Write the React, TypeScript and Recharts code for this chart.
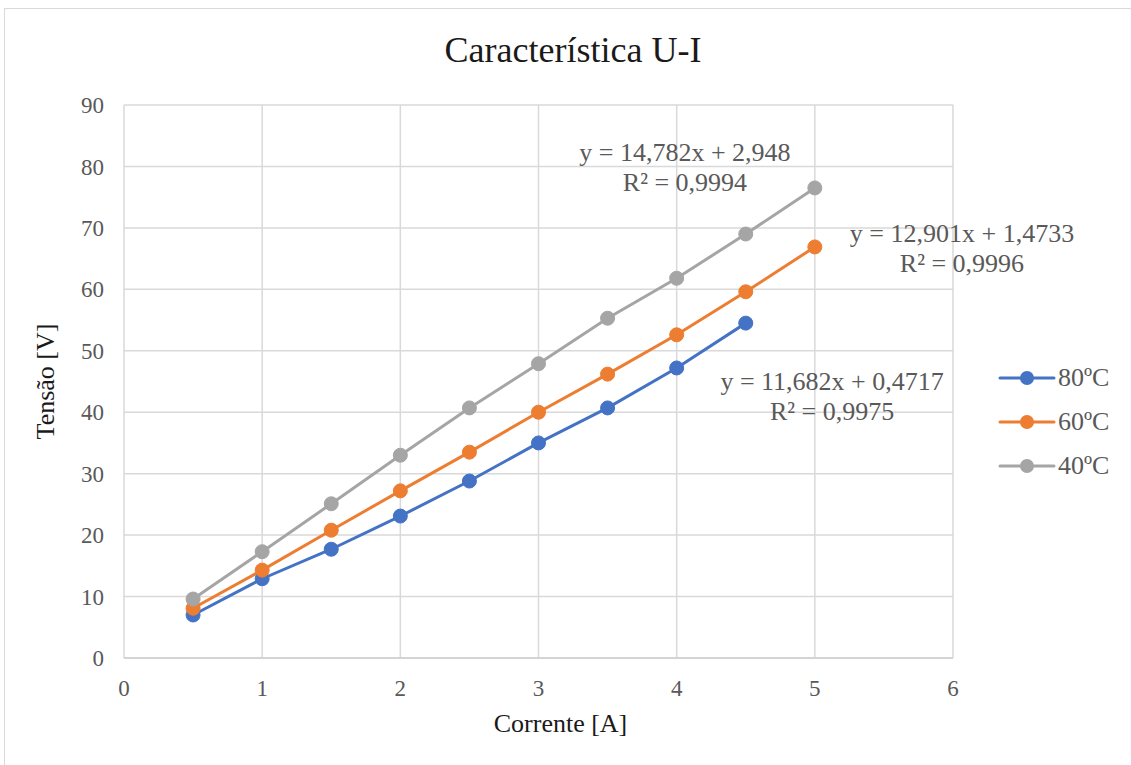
import React from "react";
import { LineChart, Line, XAxis, YAxis, CartesianGrid, ReferenceDot, Label } from "recharts";

// Corrente [A]
const current = [0.5, 1, 1.5, 2, 2.5, 3, 3.5, 4, 4.5, 5];

// Tensão [V] for each temperature
const voltage80 = [7.0, 12.9, 17.7, 23.1, 28.8, 35.0, 40.7, 47.2, 54.5];
const voltage60 = [8.1, 14.3, 20.8, 27.2, 33.5, 40.0, 46.2, 52.6, 59.6, 66.9];
const voltage40 = [9.6, 17.3, 25.1, 33.0, 40.7, 47.9, 55.3, 61.8, 69.0, 76.5];

const seriesNames = ["80ºC", "60ºC", "40ºC"];
const seriesColors = ["#4472C4", "#ED7D31", "#A5A5A5"];

const xTicks = [0, 1, 2, 3, 4, 5, 6];
const yTicks = [0, 10, 20, 30, 40, 50, 60, 70, 80, 90];

// trendline equations shown next to each series
const trendEquations = ["y = 11,682x + 0,4717", "y = 12,901x + 1,4733", "y = 14,782x + 2,948"];
const trendR2 = ["R² = 0,9975", "R² = 0,9996", "R² = 0,9994"];
const trendAnchorX = [5.125, 6.065, 4.06];
const trendAnchorY = [42.5, 66.6, 79.9];

const FONT = "'Liberation Serif', 'Times New Roman', serif";
const GRAY_TEXT = "#595959";

const toRows = (values: number[]) => values.map((v, i) => ({ x: current[i], y: v }));
const series = [voltage80, voltage60, voltage40].map((values, i) => ({
  name: seriesNames[i],
  color: seriesColors[i],
  data: toRows(values),
}));

const TrendLabel = ({ cx, cy, eq, r2 }: { cx?: number; cy?: number; eq: string; r2: string }) => {
  if (cx == null || cy == null) return null;
  return (
    <g>
      <text x={cx} y={cy - 15} textAnchor="middle" dominantBaseline="central" fontFamily={FONT} fontSize={26} fill={GRAY_TEXT}>
        {eq}
      </text>
      <text x={cx} y={cy + 15} textAnchor="middle" dominantBaseline="central" fontFamily={FONT} fontSize={26} fill={GRAY_TEXT}>
        {r2}
      </text>
    </g>
  );
};

const LegendBox = () => (
  <div style={{ position: "absolute", left: 998, top: 356 }}>
    {series.map((s) => (
      <div key={s.name} style={{ display: "flex", alignItems: "center", height: 44 }}>
        <svg width={58} height={20}>
          <line x1={2} y1={10} x2={56} y2={10} stroke={s.color} strokeWidth={3} strokeLinecap="round" />
          <circle cx={29} cy={10} r={7} fill={s.color} />
        </svg>
        <span style={{ fontFamily: FONT, fontSize: 26, color: GRAY_TEXT, marginLeft: 2, lineHeight: "26px" }}>
          {s.name}
        </span>
      </div>
    ))}
  </div>
);

export default function App() {
  return (
    <div style={{ position: "absolute", left: 0, top: 0, width: 1131, height: 765, overflow: "hidden", background: "#fff" }}>
      <div style={{ position: "absolute", left: 4, top: 8, width: 1200, height: 800, border: "1px solid #d9d9d9" }} />
      <div
        style={{
          position: "absolute",
          left: 0,
          top: 32,
          width: 1146,
          textAlign: "center",
          fontFamily: FONT,
          fontSize: 36,
          lineHeight: "36px",
          color: "#1a1a1a",
        }}
      >
        Característica U-I
      </div>
      <div style={{ position: "absolute", left: 0, top: 0 }}>
        <LineChart width={1131} height={765} margin={{ top: 105, right: 178, bottom: 67, left: 64 }}>
          <CartesianGrid stroke="#d9d9d9" strokeWidth={1.5} />
          <XAxis
            type="number"
            dataKey="x"
            domain={[0, 6]}
            ticks={xTicks}
            height={40}
            tickLine={false}
            tickSize={0}
            tickMargin={22}
            axisLine={{ stroke: "#cfcfcf", strokeWidth: 1.5 }}
            tick={{ fontFamily: FONT, fontSize: 23, fill: GRAY_TEXT }}
            allowDuplicatedCategory={false}
          >
            <Label
              content={({ viewBox }: any) => (
                <text
                  x={viewBox.x + viewBox.width / 2 + 22}
                  y={viewBox.y + 74}
                  textAnchor="middle"
                  fontFamily={FONT}
                  fontSize={26}
                  fill="#1a1a1a"
                >
                  Corrente [A]
                </text>
              )}
            />
          </XAxis>
          <YAxis
            type="number"
            dataKey="y"
            domain={[0, 90]}
            ticks={yTicks}
            width={60}
            tickLine={false}
            tickSize={0}
            tickMargin={20}
            axisLine={false}
            tick={{ fontFamily: FONT, fontSize: 23, fill: GRAY_TEXT }}
          >
            <Label
              content={({ viewBox }: any) => {
                const cx = 45;
                const cy = viewBox.y + viewBox.height / 2;
                return (
                  <text
                    x={cx}
                    y={cy}
                    transform={`rotate(-90 ${cx} ${cy})`}
                    textAnchor="middle"
                    dominantBaseline="central"
                    fontFamily={FONT}
                    fontSize={26}
                    fill="#1a1a1a"
                  >
                    Tensão [V]
                  </text>
                );
              }}
            />
          </YAxis>
          {series.map((s) => (
            <Line
              key={s.name}
              data={s.data}
              dataKey="y"
              name={s.name}
              type="linear"
              stroke={s.color}
              strokeWidth={3}
              dot={{ r: 7, fill: s.color, stroke: s.color, strokeWidth: 1 }}
              activeDot={false}
              isAnimationActive={false}
            />
          ))}
          {trendEquations.map((eq, i) => (
            <ReferenceDot
              key={eq}
              x={trendAnchorX[i]}
              y={trendAnchorY[i]}
              r={0}
              ifOverflow="visible"
              shape={(p: any) => <TrendLabel cx={p.cx} cy={p.cy} eq={eq} r2={trendR2[i]} />}
            />
          ))}
        </LineChart>
      </div>
      <LegendBox />
    </div>
  );
}
